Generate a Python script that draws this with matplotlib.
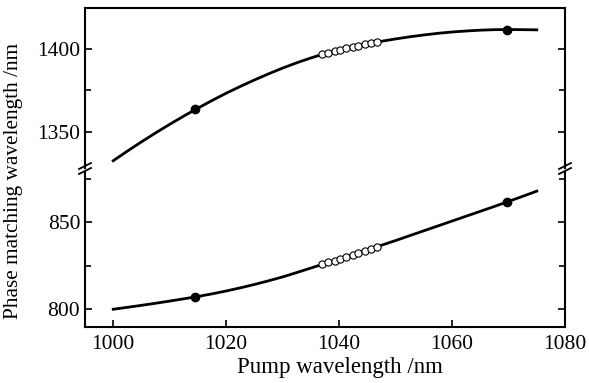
import numpy as np
from matplotlib import pyplot as plt
from matplotlib.lines import Line2D

plt.rcParams['font.family'] = ['Liberation Serif', 'DejaVu Serif']

# curves
pump = [1000, 1002.5, 1005, 1007.5, 1010, 1012.5, 1015, 1017.5, 1020, 1022.5, 1025, 1027.5,
        1030, 1032.5, 1035, 1037.5, 1040, 1042.5, 1045, 1047.5, 1050, 1052.5, 1055, 1057.5,
        1060, 1062.5, 1065, 1067.5, 1070, 1072.5, 1075]
upper = [1332.4, 1338.2, 1343.8, 1349.2, 1354.4, 1359.4, 1364.2, 1368.8, 1373.2, 1377.3, 1381.2, 1384.9,
         1388.4, 1391.6, 1394.5, 1397.2, 1399.4, 1401.4, 1403.1, 1404.6, 1406.0, 1407.3, 1408.4, 1409.4,
         1410.2, 1410.8, 1411.3, 1411.6, 1411.7, 1411.6, 1411.5]
lower = [800.0, 801.1, 802.25, 803.45, 804.7, 806.0, 807.35, 808.85, 810.5, 812.3, 814.25, 816.35,
         818.6, 821.1, 823.7, 826.3, 828.9, 831.5, 834.1, 836.8, 839.5, 842.3, 845.1, 847.9,
         850.7, 853.5, 856.3, 859.1, 862.0, 864.9, 867.9]

# filled points
dot_x = [1014.5, 1069.8]
dot_up = [1363.8, 1411.7]
dot_low = [807.3, 861.9]

# open circles
circ_x = [1037.0, 1038.1, 1039.2, 1040.2, 1041.3, 1042.4, 1043.4, 1044.5, 1045.6, 1046.7]
circ_up = [1396.6, 1397.6, 1398.5, 1399.4, 1400.3, 1401.1, 1401.9, 1402.7, 1403.4, 1404.0]
circ_low = [825.8, 826.9, 828.0, 829.1, 830.2, 831.4, 832.4, 833.6, 834.7, 835.9]

W, H = 589, 383
fig = plt.figure(figsize=(W/100, H/100), dpi=100)

L, R = 85, 565
ax1 = fig.add_axes([L/W, (H-168)/H, (R-L)/W, 160/H])
ax2 = fig.add_axes([L/W, (H-327)/H, (R-L)/W, 155/H])

for ax, y, dy, cy in [(ax1, upper, dot_up, circ_up), (ax2, lower, dot_low, circ_low)]:
    ax.plot(pump, y, color='black', lw=2)
    ax.plot(circ_x, cy, 'o', ms=5.2, mfc='white', mec='black', mew=0.8)
    ax.plot(dot_x, dy, 'o', ms=6, color='black')
    ax.set_xlim(995, 1080)
    for s in ax.spines.values():
        s.set_linewidth(1.5)
    ax.tick_params(direction='in', which='both', right=True, labelsize=15.5, width=1.2)
    ax.tick_params(which='major', length=5)
    ax.tick_params(which='minor', length=4)

ax1.set_ylim(1328, 1424.7)
ax1.set_yticks([1350, 1400])
ax1.set_yticks([1375], minor=True)
ax1.spines['bottom'].set_visible(False)
ax1.tick_params(axis='x', which='both', bottom=False, labelbottom=False)

ax2.set_ylim(789.8, 878.9)
ax2.set_yticks([800, 850])
ax2.set_yticks([825, 875], minor=True)
ax2.spines['top'].set_visible(False)
ax2.set_xticks([1000, 1020, 1040, 1060, 1080])
ax2.tick_params(axis='x', pad=6)

fig.text(340/W, 1-367/H, 'Pump wavelength /nm', ha='center', va='center', fontsize=16.5)
fig.text(14/W, 1-181/H, 'Phase matching wavelength /nm', rotation=90,
         ha='center', va='center', fontsize=15.3)

# break marks
for xp in [L, R]:
    for yp in [166, 171]:
        fig.add_artist(Line2D([(xp-6)/W, (xp+6)/W], [1-(yp+3)/H, 1-(yp-3)/H],
                              color='black', lw=1.3))

plt.savefig('out.png', dpi=100)
